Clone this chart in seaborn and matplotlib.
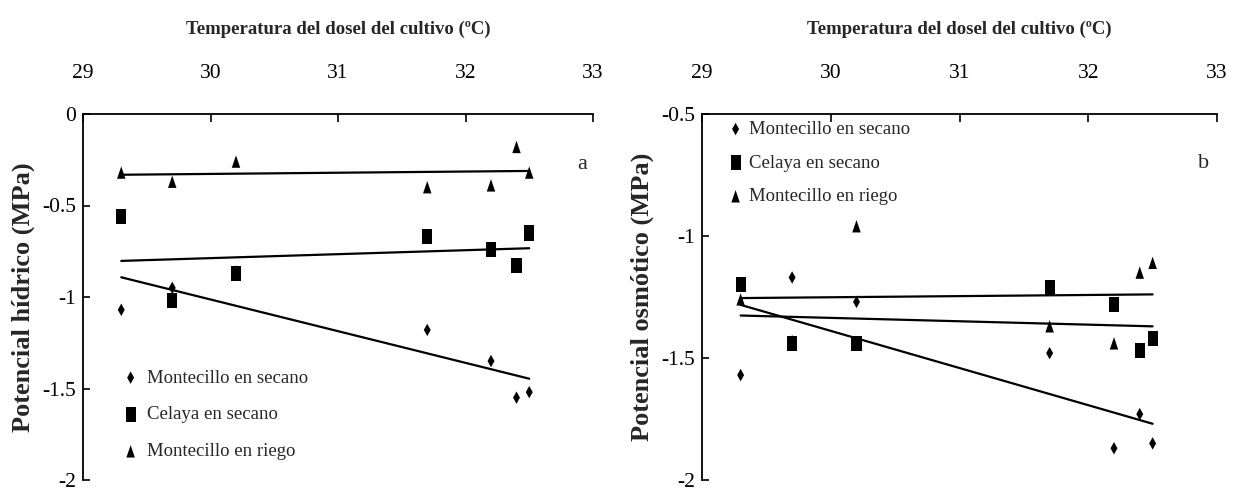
import numpy as np
import pandas as pd
import matplotlib
matplotlib.use("Agg")
import matplotlib.pyplot as plt
import seaborn as sns

# ---------------- data ----------------
temperatura = [29.3, 29.7, 30.2, 31.7, 32.2, 32.4, 32.5]

# Panel a: Potencial hídrico (MPa)
hid_mont_secano = [-1.07, -0.95, -0.86, -1.18, -1.35, -1.55, -1.52]
hid_cel_secano = [-0.56, -1.02, -0.87, -0.67, -0.74, -0.83, -0.65]
hid_mont_riego = [-0.32, -0.37, -0.26, -0.40, -0.39, -0.18, -0.32]

# Panel b: Potencial osmótico (MPa)
osm_mont_secano = [-1.57, -1.17, -1.27, -1.48, -1.87, -1.73, -1.85]
osm_cel_secano = [-1.20, -1.44, -1.44, -1.21, -1.28, -1.47, -1.42]
osm_mont_riego = [-1.26, -1.43, -0.96, -1.37, -1.44, -1.15, -1.11]

series_names = ["Montecillo en secano", "Celaya en secano", "Montecillo en riego"]
x_ticks = [29, 30, 31, 32, 33]
x_tick_labels = ["29", "30", "31", "32", "33"]
yticks_a = [0, -0.5, -1, -1.5, -2]
ytick_labels_a = ["0", "-0.5", "-1", "-1.5", "-2"]
yticks_b = [-0.5, -1, -1.5, -2]
ytick_labels_b = ["-0.5", "-1", "-1.5", "-2"]
xlabel_text = "Temperatura del dosel del cultivo (ºC)"
ylabel_a = "Potencial hídrico (MPa)"
ylabel_b = "Potencial osmótico (MPa)"

# ---------------- style ----------------
sns.set_style("white")
plt.rcParams["font.family"] = ["Liberation Serif", "DejaVu Serif"]
plt.rcParams["axes.unicode_minus"] = False

# narrow (horizontally compressed) marker shapes
m_diamond = [(0, 0.5), (0.28, 0), (0, -0.5), (-0.28, 0), (0, 0.5)]
m_square = [(-0.33, -0.5), (0.33, -0.5), (0.33, 0.5), (-0.33, 0.5), (-0.33, -0.5)]
m_triangle = [(0, 0.5), (0.34, -0.5), (-0.34, -0.5), (0, 0.5)]
markers = [m_diamond, m_square, m_triangle]
msizes = [80, 120, 80]

W, H = 1239, 493
fig = plt.figure(figsize=(W / 100, H / 100), dpi=100)
axA = fig.add_axes([83 / W, 1 - 480 / H, 510 / W, 366 / H])
axB = fig.add_axes([702 / W, 1 - 480 / H, 515 / W, 366 / H])


def draw_panel(ax, ys, ylim, yticks, ylabels, ylabel, letter, letter_pos,
               leg_anchor, leg_spacing, textpad):
    for y, name, mk, ms in zip(ys, series_names, markers, msizes):
        df = pd.DataFrame({"t": temperatura, "v": y})
        sns.regplot(data=df, x="t", y="v", ax=ax, scatter=False, ci=None,
                    truncate=True, color="black", line_kws={"lw": 1.6})
        sns.scatterplot(data=df, x="t", y="v", ax=ax, marker=mk, s=ms,
                        color="black", edgecolor="none", linewidth=0,
                        label=name, legend=False)
    ax.set_xlim(29, 33)
    ax.set_ylim(*ylim)
    ax.xaxis.tick_top()
    ax.xaxis.set_label_position("top")
    ax.set_xticks(x_ticks)
    ax.set_xticklabels(x_tick_labels)
    ax.set_yticks(yticks)
    ax.set_yticklabels(ylabels)
    for s in ["right", "bottom"]:
        ax.spines[s].set_visible(False)
    for s in ["top", "left"]:
        ax.spines[s].set_visible(True)
        ax.spines[s].set_color("black")
        ax.spines[s].set_linewidth(1.3)
    ax.tick_params(axis="x", direction="in", length=6, width=1.2, pad=22,
                   labelsize=15.5, colors="black", top=True, bottom=False)
    ax.tick_params(axis="y", direction="in", length=5, width=1.2, pad=5,
                   labelsize=15.5, colors="black", left=True)
    ax.set_xlabel(xlabel_text, fontsize=13.5, fontweight="bold", labelpad=22)
    ax.set_ylabel(ylabel, fontsize=19, fontweight="bold", labelpad=5)
    ax.grid(False)
    ax.text(letter_pos[0], letter_pos[1], letter, transform=ax.transAxes,
            fontsize=16, ha="center", va="center")
    handles, labels = ax.get_legend_handles_labels()
    ax.legend(handles, labels, loc="center left", bbox_to_anchor=leg_anchor,
              frameon=False, fontsize=13.5, handlelength=1.0,
              handletextpad=textpad, labelspacing=leg_spacing, borderpad=0,
              borderaxespad=0, scatterpoints=1)


draw_panel(axA, [hid_mont_secano, hid_cel_secano, hid_mont_riego], (-2, 0),
           yticks_a, ytick_labels_a, ylabel_a, "a", (0.978, 0.861),
           (0.075, 0.178), 1.05, 0.35)
draw_panel(axB, [osm_mont_secano, osm_cel_secano, osm_mont_riego], (-2, -0.5),
           yticks_b, ytick_labels_b, ylabel_b, "b", (0.973, 0.866),
           (0.047, 0.866), 0.88, 0.2)

fig.savefig("out.png", dpi=100)
